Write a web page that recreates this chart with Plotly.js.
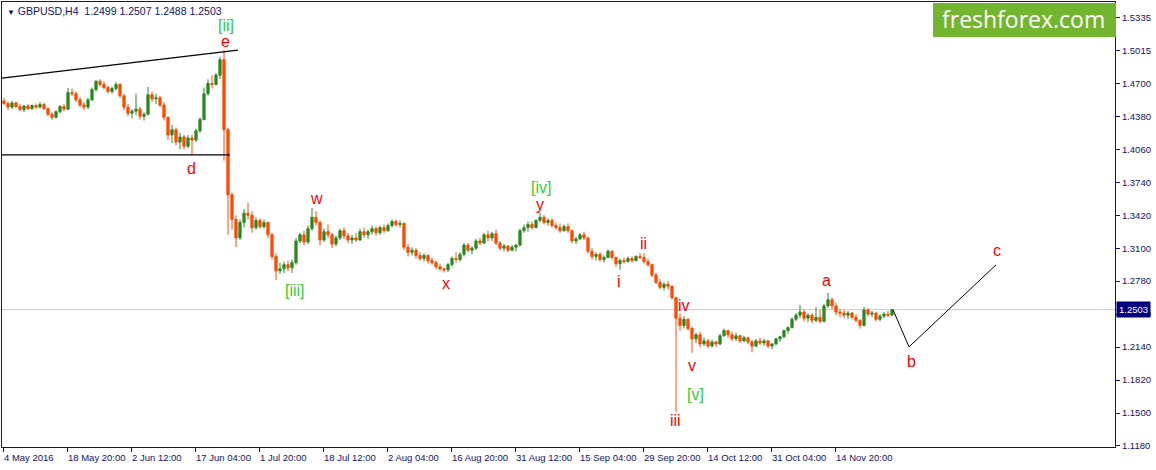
<!DOCTYPE html>
<html>
<head>
<meta charset="utf-8">
<script src="https://cdn.plot.ly/plotly-3.0.1.min.js"></script>
<style>
  html, body { margin: 0; padding: 0; background: #ffffff; }
  #chart { width: 1156px; height: 470px; }
</style>
</head>
<body>
<div id="chart"></div>
<script>
// ---- Data (GBPUSD, each row = [open, high, low, close], one row per 16 hours) ----
const candlesMayJul = [
  [1.4530,1.4560,1.4490,1.4505],[1.4505,1.4520,1.4440,1.4470],[1.4470,1.4530,1.4450,1.4510],[1.4510,1.4525,1.4460,1.4475],
  [1.4475,1.4500,1.4430,1.4445],[1.4445,1.4490,1.4420,1.4480],[1.4480,1.4500,1.4440,1.4455],[1.4455,1.4495,1.4445,1.4485],
  [1.4485,1.4505,1.4450,1.4470],[1.4470,1.4520,1.4455,1.4495],[1.4495,1.4510,1.4440,1.4455],[1.4455,1.4465,1.4380,1.4400],
  [1.4400,1.4420,1.4345,1.4370],[1.4370,1.4440,1.4360,1.4425],[1.4425,1.4490,1.4410,1.4475],[1.4475,1.4500,1.4430,1.4450],
  [1.4450,1.4655,1.4440,1.4610],[1.4610,1.4650,1.4580,1.4600],[1.4600,1.4620,1.4520,1.4540],[1.4540,1.4570,1.4470,1.4490],
  [1.4490,1.4520,1.4440,1.4470],[1.4470,1.4560,1.4450,1.4540],[1.4540,1.4660,1.4530,1.4640],[1.4640,1.4735,1.4620,1.4720],
  [1.4720,1.4740,1.4670,1.4690],[1.4690,1.4720,1.4640,1.4660],[1.4660,1.4680,1.4600,1.4620],[1.4620,1.4670,1.4600,1.4650],
  [1.4650,1.4715,1.4630,1.4690],[1.4690,1.4700,1.4560,1.4580],[1.4580,1.4600,1.4440,1.4470],[1.4470,1.4500,1.4380,1.4410],
  [1.4410,1.4450,1.4360,1.4430],[1.4430,1.4600,1.4390,1.4450],[1.4450,1.4470,1.4350,1.4380],[1.4380,1.4420,1.4340,1.4400],
  [1.4400,1.4665,1.4390,1.4590],[1.4590,1.4620,1.4520,1.4550],[1.4550,1.4600,1.4500,1.4560],[1.4560,1.4580,1.4470,1.4490],
  [1.4490,1.4520,1.4340,1.4370],[1.4370,1.4380,1.4150,1.4200],[1.4200,1.4300,1.4120,1.4250],[1.4250,1.4270,1.4100,1.4130],
  [1.4130,1.4220,1.4060,1.4180],[1.4180,1.4200,1.4060,1.4090],[1.4090,1.4200,1.4070,1.4170],[1.4170,1.4200,1.4005,1.4150],
  [1.4150,1.4260,1.4130,1.4240],[1.4240,1.4370,1.4220,1.4350],[1.4350,1.4660,1.4340,1.4600],[1.4600,1.4740,1.4580,1.4700],
  [1.4700,1.4780,1.4650,1.4690],[1.4690,1.4800,1.4680,1.4780],[1.4780,1.4958,1.4740,1.4930],[1.4930,1.5025,1.3950,1.4250],
  [1.4250,1.4270,1.3230,1.3620],[1.3620,1.3640,1.3280,1.3380],[1.3380,1.3420,1.3110,1.3200],[1.3200,1.3380,1.3180,1.3350],
  [1.3350,1.3480,1.3300,1.3440],[1.3440,1.3540,1.3380,1.3420],[1.3420,1.3460,1.3250,1.3300],[1.3300,1.3400,1.3280,1.3370],
  [1.3370,1.3390,1.3290,1.3310],[1.3310,1.3380,1.3290,1.3350],[1.3350,1.3360,1.3200,1.3230],[1.3230,1.3250,1.2990,1.3020],
  [1.3020,1.3050,1.2790,1.2880],[1.2880,1.2960,1.2850,1.2900],[1.2900,1.2970,1.2860,1.2940],[1.2940,1.2980,1.2880,1.2910],
  [1.2910,1.2990,1.2860,1.2960],[1.2960,1.3200,1.2940,1.3170],[1.3170,1.3250,1.3150,1.3230]
];
const candlesJulSep = [
  [1.3230,1.3270,1.3130,1.3160],[1.3160,1.3320,1.3140,1.3290],[1.3290,1.3490,1.3270,1.3400],[1.3400,1.3460,1.3320,1.3350],
  [1.3350,1.3370,1.3130,1.3180],[1.3180,1.3290,1.3160,1.3260],[1.3260,1.3330,1.3200,1.3230],[1.3230,1.3250,1.3100,1.3140],
  [1.3140,1.3220,1.3120,1.3200],[1.3200,1.3290,1.3180,1.3270],[1.3270,1.3300,1.3190,1.3220],[1.3220,1.3250,1.3150,1.3180],
  [1.3180,1.3230,1.3140,1.3200],[1.3200,1.3250,1.3160,1.3180],[1.3180,1.3290,1.3170,1.3260],[1.3260,1.3300,1.3200,1.3230],
  [1.3230,1.3280,1.3190,1.3260],[1.3260,1.3320,1.3230,1.3290],[1.3290,1.3310,1.3220,1.3250],[1.3250,1.3320,1.3230,1.3300],
  [1.3300,1.3330,1.3250,1.3270],[1.3270,1.3340,1.3260,1.3320],[1.3320,1.3380,1.3300,1.3360],[1.3360,1.3380,1.3310,1.3330],
  [1.3330,1.3370,1.3300,1.3340],[1.3340,1.3350,1.3080,1.3110],[1.3110,1.3140,1.3020,1.3060],[1.3060,1.3110,1.3030,1.3080],
  [1.3080,1.3100,1.3000,1.3030],[1.3030,1.3060,1.2980,1.3000],[1.3000,1.3050,1.2970,1.3030],[1.3030,1.3040,1.2950,1.2980],
  [1.2980,1.3010,1.2940,1.2960],[1.2960,1.2980,1.2900,1.2920],[1.2920,1.2950,1.2880,1.2900],[1.2900,1.2910,1.2865,1.2890],
  [1.2890,1.2960,1.2870,1.2940],[1.2940,1.3020,1.2920,1.3000],[1.3000,1.3060,1.2960,1.2990],[1.2990,1.3060,1.2970,1.3040],
  [1.3040,1.3150,1.3020,1.3130],[1.3130,1.3150,1.3060,1.3080],[1.3080,1.3120,1.3040,1.3100],[1.3100,1.3190,1.3080,1.3170],
  [1.3170,1.3200,1.3130,1.3150],[1.3150,1.3250,1.3140,1.3230],[1.3230,1.3270,1.3170,1.3200],[1.3200,1.3260,1.3170,1.3240],
  [1.3240,1.3280,1.3130,1.3150],[1.3150,1.3170,1.3080,1.3100],[1.3100,1.3140,1.3070,1.3120],[1.3120,1.3130,1.3060,1.3080],
  [1.3080,1.3130,1.3070,1.3110],[1.3110,1.3140,1.3070,1.3130],[1.3130,1.3290,1.3120,1.3270],[1.3270,1.3330,1.3250,1.3300],
  [1.3300,1.3360,1.3260,1.3330],[1.3330,1.3360,1.3280,1.3300],[1.3300,1.3380,1.3290,1.3370],[1.3370,1.3445,1.3350,1.3400],
  [1.3400,1.3420,1.3330,1.3350],[1.3350,1.3390,1.3320,1.3370],[1.3370,1.3390,1.3300,1.3320],[1.3320,1.3350,1.3280,1.3300],
  [1.3300,1.3340,1.3250,1.3270],[1.3270,1.3330,1.3260,1.3310],[1.3310,1.3340,1.3250,1.3270],[1.3270,1.3280,1.3150,1.3170],
  [1.3170,1.3210,1.3140,1.3190],[1.3190,1.3250,1.3180,1.3230],[1.3230,1.3260,1.3180,1.3200],[1.3200,1.3210,1.3050,1.3070],
  [1.3070,1.3100,1.2990,1.3020],[1.3020,1.3060,1.2980,1.3040],[1.3040,1.3060,1.2970,1.2990]
];
const candlesSepNov = [
  [1.2990,1.3030,1.2960,1.3010],[1.3010,1.3090,1.3000,1.3070],[1.3070,1.3080,1.2990,1.3010],[1.3010,1.3020,1.2920,1.2950],
  [1.2950,1.3000,1.2890,1.2980],[1.2980,1.3010,1.2950,1.2970],[1.2970,1.3020,1.2960,1.3000],[1.3000,1.3020,1.2960,1.2980],
  [1.2980,1.3030,1.2970,1.3020],[1.3020,1.3055,1.2990,1.3010],[1.3010,1.3050,1.2950,1.2970],[1.2970,1.3000,1.2920,1.2940],
  [1.2940,1.2950,1.2820,1.2840],[1.2840,1.2860,1.2750,1.2770],[1.2770,1.2800,1.2700,1.2720],[1.2720,1.2770,1.2690,1.2750],
  [1.2750,1.2780,1.2700,1.2730],[1.2730,1.2740,1.2600,1.2620],[1.2620,1.2630,1.1510,1.2420],[1.2420,1.2470,1.2300,1.2350],
  [1.2350,1.2440,1.2320,1.2410],[1.2410,1.2420,1.2300,1.2320],[1.2320,1.2340,1.2085,1.2220],[1.2220,1.2280,1.2180,1.2260],
  [1.2260,1.2290,1.2140,1.2170],[1.2170,1.2230,1.2150,1.2200],[1.2200,1.2220,1.2130,1.2150],[1.2150,1.2210,1.2140,1.2190],
  [1.2190,1.2200,1.2140,1.2170],[1.2170,1.2270,1.2160,1.2250],[1.2250,1.2320,1.2240,1.2300],[1.2300,1.2310,1.2230,1.2260],
  [1.2260,1.2290,1.2200,1.2220],[1.2220,1.2280,1.2200,1.2250],[1.2250,1.2260,1.2180,1.2200],[1.2200,1.2250,1.2190,1.2230],
  [1.2230,1.2240,1.2170,1.2190],[1.2190,1.2210,1.2090,1.2150],[1.2150,1.2220,1.2140,1.2200],[1.2200,1.2230,1.2160,1.2180],
  [1.2180,1.2220,1.2150,1.2200],[1.2200,1.2210,1.2130,1.2150],[1.2150,1.2180,1.2120,1.2170],[1.2170,1.2230,1.2160,1.2220],
  [1.2220,1.2250,1.2190,1.2240],[1.2240,1.2310,1.2230,1.2300],[1.2300,1.2340,1.2270,1.2330],[1.2330,1.2430,1.2320,1.2410],
  [1.2410,1.2470,1.2390,1.2450],[1.2450,1.2550,1.2420,1.2480],[1.2480,1.2500,1.2390,1.2420],[1.2420,1.2470,1.2380,1.2450],
  [1.2450,1.2470,1.2370,1.2400],[1.2400,1.2530,1.2380,1.2430],[1.2430,1.2500,1.2370,1.2390],[1.2390,1.2560,1.2380,1.2540],
  [1.2540,1.2666,1.2520,1.2600],[1.2600,1.2620,1.2510,1.2540],[1.2540,1.2570,1.2450,1.2480],[1.2480,1.2510,1.2430,1.2470],
  [1.2470,1.2500,1.2420,1.2450],[1.2450,1.2490,1.2410,1.2470],[1.2470,1.2480,1.2410,1.2430],[1.2430,1.2460,1.2380,1.2400],
  [1.2400,1.2410,1.2320,1.2350],[1.2350,1.2530,1.2340,1.2500],[1.2500,1.2520,1.2440,1.2460],[1.2460,1.2490,1.2430,1.2470],
  [1.2470,1.2480,1.2390,1.2410],[1.2410,1.2460,1.2390,1.2440],[1.2440,1.2480,1.2420,1.2460],[1.2460,1.2490,1.2430,1.2450],
  [1.2450,1.2507,1.2440,1.2503]
];

// Last H4 bar shown in the header
const lastBar = [1.2499, 1.2507, 1.2488, 1.2503];
const lastPrice = 1.2503;

// Time axis labels (every 64 H4 bars = 16 candles)
const timeLabels = ["4 May 2016","18 May 20:00","2 Jun 12:00","17 Jun 04:00","1 Jul 20:00","18 Jul 12:00",
  "2 Aug 04:00","16 Aug 20:00","31 Aug 12:00","15 Sep 04:00","29 Sep 20:00","14 Oct 12:00","31 Oct 04:00","14 Nov 20:00"];
const timeLabelCandle = [-0.25,15.75,31.75,47.75,63.75,79.75,95.75,111.75,127.75,143.75,159.75,175.75,191.75,207.75];

// Price axis labels
const priceTickVals = [1.1180,1.1500,1.1820,1.2140,1.2460,1.2780,1.3100,1.3420,1.3740,1.4060,1.4380,1.4700,1.5022,1.5335];
const priceTickText = ["1.1180","1.1500","1.1820","1.2140","1.2460","1.2780","1.3100","1.3420","1.3740","1.4060","1.4380","1.4700","1.5015","1.5335"];

// Elliott wave labels
const waveText  = ["[ii]","e","d","w","[iii]","x","[iv]","y","ii","i","iv","v","[v]","iii","a","b","c"];
const waveX     = [55.5,55.25,46.75,78,72.75,110.5,134.25,134,159.75,153.75,170,172,172.75,167.75,205.5,226.75,248.25];
const waveY     = [1.5266,1.5110,1.3878,1.3578,1.2685,1.2753,1.3694,1.3529,1.3141,1.2773,1.2540,1.1958,1.1676,1.1424,1.2782,1.1997,1.3074];
const waveGreen = [true,false,false,false,true,false,true,false,false,false,false,false,true,false,false,false,false];

// Triangle boundary lines and projected path
const upperLineX = [-0.5, 58.5],  upperLineY = [1.4751, 1.5023];
const lowerLineX = [-0.5, 56.5],  lowerLineY = [1.4005, 1.4005];
const projX = [222.25, 226.25, 248.0];
const projY = [1.2503, 1.2142, 1.2938];

// ---- Build ----
const allCandles = candlesMayJul.concat(candlesJulSep, candlesSepNov);
const xIdx = allCandles.map((_, i) => i);
const opens = allCandles.map(r => r[0]);
const highs = allCandles.map(r => r[1]);
const lows  = allCandles.map(r => r[2]);
const closes= allCandles.map(r => r[3]);

const NAVY = "#10106e";
const GREEN_C = "#2a8a22";
const ORANGE_C = "#ff4a00";

const traces = [
  {
    type: "candlestick",
    x: xIdx, open: opens, high: highs, low: lows, close: closes,
    increasing: { line: { color: GREEN_C, width: 1 }, fillcolor: GREEN_C },
    decreasing: { line: { color: ORANGE_C, width: 1 }, fillcolor: ORANGE_C },
    whiskerwidth: 0,
    hoverinfo: "skip",
    showlegend: false
  },
  {
    type: "scatter", mode: "lines",
    x: projX, y: projY,
    line: { color: "#000000", width: 1 },
    hoverinfo: "skip", showlegend: false
  }
];

const annotations = waveText.map((t, i) => ({
  x: waveX[i], y: waveY[i], xref: "x", yref: "y",
  text: t, showarrow: false,
  xanchor: "center", yanchor: "middle",
  font: { family: "Liberation Sans, Arial, sans-serif", size: 16, color: waveGreen[i] ? "#33cc33" : "#ff0000" }
}));

annotations.push({
  xref: "paper", yref: "paper", x: 0.003, y: 0.9805,
  xanchor: "left", yanchor: "middle", showarrow: false,
  text: "<span style='font-size:8px'>▼</span> GBPUSD,H4\u00a0\u00a0" + lastBar.map(v => v.toFixed(4)).join(" "),
  font: { family: "Liberation Sans, Arial, sans-serif", size: 10.5, color: NAVY }
});

annotations.push({
  xref: "paper", yref: "y", x: 1.0, y: lastPrice,
  xanchor: "left", yanchor: "middle", showarrow: false,
  text: lastPrice.toFixed(4), bgcolor: "#000080", borderpad: 2, xshift: 1,
  font: { family: "Liberation Sans, Arial, sans-serif", size: 9.5, color: "#ffffff" }
});

annotations.push({
  xref: "paper", yref: "paper", x: 0.9182, y: 0.9607,
  xanchor: "center", yanchor: "middle", showarrow: false,
  text: "freshforex.com",
  font: { family: "Open Sans, sans-serif", size: 23, color: "#ffffff" }
});

const shapes = [
  { type: "line", xref: "paper", yref: "y", x0: 0, x1: 1, y0: lastPrice, y1: lastPrice,
    line: { color: "#c8c8c8", width: 1 }, layer: "below" },
  { type: "line", xref: "x", yref: "y", x0: upperLineX[0], x1: upperLineX[1], y0: upperLineY[0], y1: upperLineY[1],
    line: { color: "#000000", width: 1.2 } },
  { type: "line", xref: "x", yref: "y", x0: lowerLineX[0], x1: lowerLineX[1], y0: lowerLineY[0], y1: lowerLineY[1],
    line: { color: "#000000", width: 1.2 } },
  { type: "rect", xref: "paper", yref: "paper", x0: 0.8365, x1: 1.0009, y0: 0.9213, y1: 0.9975,
    fillcolor: "#74b52f", line: { width: 0 }, layer: "above" }
];

const layout = {
  width: 1156, height: 470,
  margin: { l: 2, r: 41, t: 2, b: 23, pad: 0 },
  paper_bgcolor: "#ffffff", plot_bgcolor: "#ffffff",
  showlegend: false,
  boxgap: 0.2,
  xaxis: {
    range: [-0.5, 277.75],
    showgrid: false, zeroline: false,
    showline: true, linecolor: NAVY, linewidth: 1, mirror: true,
    ticks: "outside", ticklen: 4, tickcolor: NAVY, tickwidth: 1,
    tickmode: "array", tickvals: timeLabelCandle, ticktext: timeLabels,
    ticklabelposition: "outside right",
    ticklabelstandoff: 2,
    tickangle: 0,
    tickfont: { family: "Liberation Sans, Arial, sans-serif", size: 9.5, color: NAVY },
    rangeslider: { visible: false },
    fixedrange: true
  },
  yaxis: {
    side: "right",
    range: [1.1170, 1.5490],
    showgrid: false, zeroline: false,
    showline: true, linecolor: NAVY, linewidth: 1, mirror: true,
    ticks: "outside", ticklen: 4, tickcolor: NAVY, tickwidth: 1,
    tickmode: "array", tickvals: priceTickVals, ticktext: priceTickText,
    tickfont: { family: "Liberation Sans, Arial, sans-serif", size: 9.5, color: NAVY },
    fixedrange: true
  },
  annotations: annotations,
  shapes: shapes
};

Plotly.newPlot("chart", traces, layout, { displayModeBar: false, staticPlot: true });
</script>
</body>
</html>
